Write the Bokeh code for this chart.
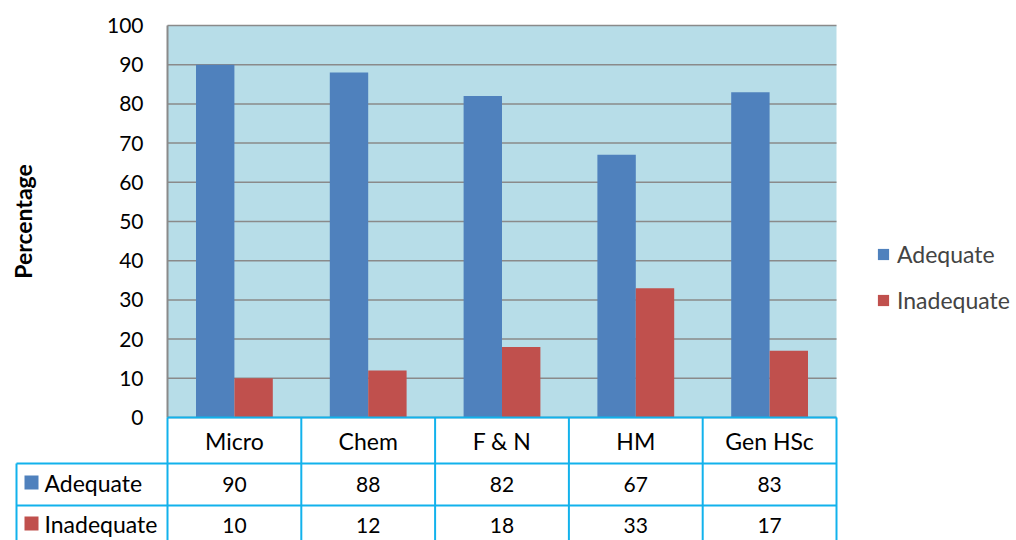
import math
from bokeh.plotting import figure
from bokeh.models import Range1d, Legend, LegendItem, ColumnDataSource
from bokeh.core.properties import value
from bokeh.embed import file_html
from bokeh.resources import INLINE

# ---- data ----
categories = ["Micro", "Chem", "F & N", "HM", "Gen HSc"]
adequate = [90, 88, 82, 67, 83]
inadequate = [10, 12, 18, 33, 17]
series_names = ["Adequate", "Inadequate"]
y_ticks = [0, 10, 20, 30, 40, 50, 60, 70, 80, 90, 100]
y_label = "Percentage"

FONT = "Lato"
BLUE = "#4F81BD"
RED = "#C0504D"
BG = "#B7DDE8"
GRID = "#8A8A8A"
CYAN = "#12B2EC"
WORD_SIZE = "23px"
NUM_SIZE = "21px"

W, H = 1010, 540
n = len(categories)
YMAX = y_ticks[-1]
# layout geometry: the frame covers the whole canvas
PLOT_L, PLOT_R, PLOT_T, PLOT_B = 167, 836, 25, 417
PX_X = (PLOT_R - PLOT_L) / n          # pixels per category
PX_Y = (PLOT_B - PLOT_T) / YMAX       # pixels per percent


def X(px):  # canvas pixel -> x data
    return (px - PLOT_L) / PX_X


def Y(px):  # canvas pixel -> y data
    return (PLOT_B - px) / PX_Y


p = figure(x_range=Range1d(X(0), X(W)), y_range=Range1d(Y(H), Y(0)),
           width=W, height=H,
           min_border_top=0, min_border_left=0, min_border_right=0, min_border_bottom=0,
           x_axis_location=None, y_axis_location=None,
           output_backend="svg", toolbar_location=None)
p.outline_line_color = None
p.background_fill_color = "white"
p.border_fill_color = "white"
p.xgrid.visible = False
p.ygrid.visible = False

# plot area background
p.quad(left=[0], right=[n], bottom=[0], top=[YMAX], fill_color=BG, line_color=None)
# gridlines
p.segment(x0=[0] * len(y_ticks), x1=[n] * len(y_ticks), y0=y_ticks, y1=y_ticks,
          line_color=GRID, line_width=1.5)

# bars
bw = 0.287
src = ColumnDataSource(dict(
    xa=[i + 0.5 - bw / 2 for i in range(n)],
    xi=[i + 0.5 + bw / 2 for i in range(n)],
    adequate=adequate, inadequate=inadequate))
r1 = p.vbar(x="xa", top="adequate", width=bw, source=src, fill_color=BLUE, line_color=None)
r2 = p.vbar(x="xi", top="inadequate", width=bw, source=src, fill_color=RED, line_color=None)

# value axis
p.segment(x0=[0], x1=[0], y0=[0], y1=[YMAX], line_color=GRID, line_width=2)
p.text(x=[0] * len(y_ticks), y=y_ticks, text=[str(v) for v in y_ticks], x_offset=-24,
       text_align="right", text_baseline="middle", text_font=value(FONT),
       text_font_size=NUM_SIZE, text_color="black")
p.text(x=[X(22)], y=[Y(221)], text=[y_label], angle=math.pi / 2,
       text_align="center", text_baseline="middle", text_font=value(FONT),
       text_font_style="bold", text_font_size=WORD_SIZE, text_color="black")

# legend
legend = Legend(items=[LegendItem(label=series_names[0], renderers=[r1]),
                       LegendItem(label=series_names[1], renderers=[r2])],
                location=(876, H - 314), orientation="vertical",
                border_line_color=None, background_fill_alpha=0,
                margin=0, padding=0, spacing=18,
                glyph_width=14, glyph_height=14, label_height=20, label_standoff=7,
                label_text_font=FONT, label_text_font_size=WORD_SIZE)
p.add_layout(legend)

# ---- data table ----
TAB_L = X(16)
row_lines = [Y(417), Y(463), Y(505)]
p.segment(x0=[0, TAB_L, TAB_L], x1=[n, n, n], y0=row_lines, y1=row_lines,
          line_color=CYAN, line_width=2)
vx = [TAB_L] + list(range(n + 1))
vy0 = [Y(463)] + [Y(417)] * (n + 1)
p.segment(x0=vx, x1=vx, y0=vy0, y1=[Y(H + 10)] * len(vx), line_color=CYAN, line_width=2)

cx = [i + 0.5 for i in range(n)]
p.text(x=cx, y=[Y(440)] * n, text=categories, text_align="center", text_baseline="middle",
       text_font=value(FONT), text_font_size=WORD_SIZE, text_color="black")
p.text(x=cx, y=[Y(484)] * n, text=[str(v) for v in adequate], text_align="center",
       text_baseline="middle", text_font=value(FONT), text_font_size=NUM_SIZE, text_color="black")
p.text(x=cx, y=[Y(525)] * n, text=[str(v) for v in inadequate], text_align="center",
       text_baseline="middle", text_font=value(FONT), text_font_size=NUM_SIZE, text_color="black")

p.rect(x=[X(31), X(31)], y=[Y(482), Y(523)], width=14 / PX_X, height=14 / PX_Y,
       fill_color=[BLUE, RED], line_color=None)
p.text(x=[X(44)] * 2, y=[Y(482), Y(523)], text=series_names, text_align="left",
       text_baseline="middle", text_font=value(FONT), text_font_size=WORD_SIZE, text_color="black")

open("out.html", "w").write(file_html(p, INLINE))
